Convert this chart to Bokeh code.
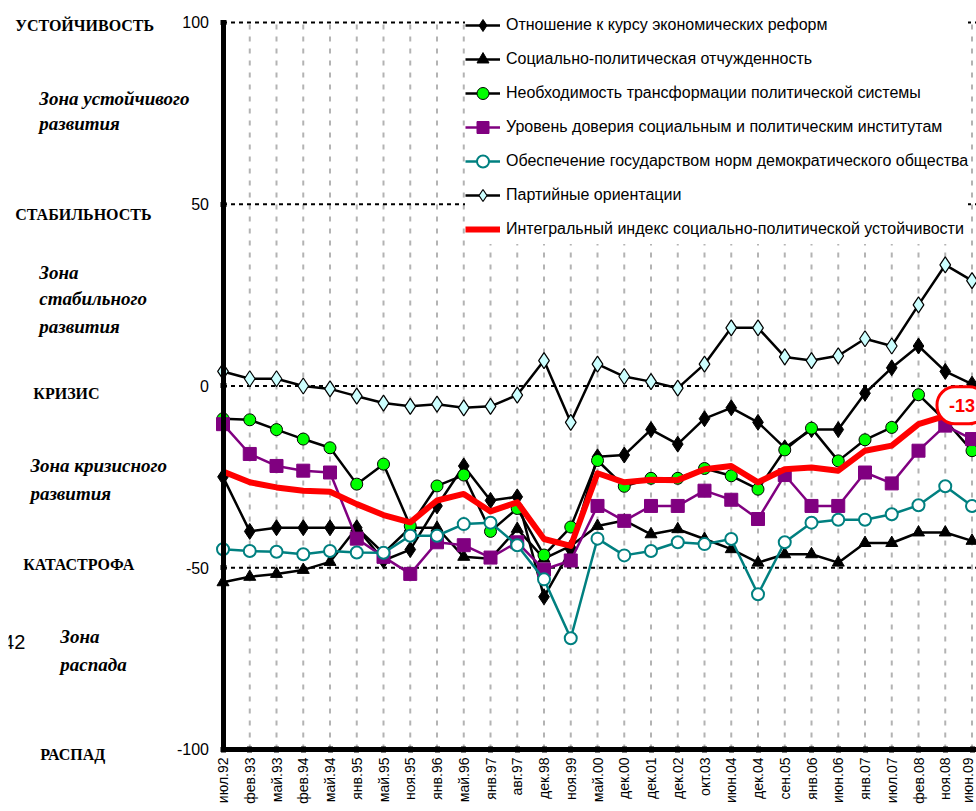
import math
from bokeh.plotting import figure
from bokeh.models import (Range1d, FixedTicker, LinearAxis, Legend, LegendItem, Label)
from bokeh.embed import file_html
from bokeh.resources import INLINE

# ---------------- data ----------------
categories = ["июл.92", "фев.93", "май.93", "фев.94", "май.94", "янв.95", "май.95", "ноя.95",
              "янв.96", "май.96", "янв.97", "авг.97", "дек.98", "ноя.99", "май.00", "дек.00",
              "дек.01", "дек.02", "окт.03", "июн.04", "дек.04", "сен.05", "янв.06", "июн.06",
              "янв.07", "июл.07", "фев.08", "ноя.08", "июн.09"]

reform = [-25, -40, -39, -39, -39, -39, -48, -45, -33, -22, -31.5, -30.5, -58, -45, -19.5,
          -19, -12, -16, -9, -6, -10, -17, -12, -12, -2, 5, 11, 4, 0.5]
alienation = [-54, -52.5, -51.7, -50.6, -48.4, -39, -46, -39, -39, -47, -47.5, -39.3, -47.5, -44, -38.5,
              -37, -40.8, -39.4, -42.1, -44.9, -48.6, -46.3, -46.3, -48.6, -43.2, -43.2, -40.3, -40.3, -42.6]
transformation = [-9, -9.3, -12, -14.6, -17, -27, -21.5, -38.5, -27.5, -24.5, -40, -33.7, -46.5, -38.8, -20.5,
                  -27.6, -25.4, -25.4, -22.7, -24.7, -28.4, -17.6, -11.6, -20.6, -14.8, -11.4, -2.4, -9.5, -17.8]
trust = [-10.5, -18.7, -22, -23.3, -23.8, -42, -47, -51.7, -43, -43.8, -47.2, -43, -50.5, -48, -33,
         -37.1, -33, -33, -28.8, -31.3, -36.6, -24.5, -33, -33, -23.8, -26.8, -17.8, -10.9, -14.6]
democracy = [-44.9, -45.4, -45.6, -46.3, -45.4, -45.8, -45.9, -41.2, -41.2, -38, -37.6, -43.8, -53.2, -69.4, -42,
             -46.6, -45.4, -43, -43.5, -42.1, -57.3, -43, -37.6, -36.8, -36.8, -35.3, -32.8, -27.6, -33]
party = [4, 2, 2, 0, -0.8, -2.8, -4.7, -5.6, -5, -6, -5.6, -2.5, 7, -10, 6,
         2.6, 1.2, -0.6, 6, 16, 16, 8, 7, 8.3, 13, 11, 22.3, 33.3, 29]
integral = [-23.5, -26.5, -27.9, -28.8, -29.1, -32.5, -35.5, -37.5, -31.5, -29.7, -34.5, -32, -42.1, -44, -24,
            -26.5, -25.8, -25.9, -22.9, -22, -26.5, -22.9, -22.4, -23.3, -17.8, -16.4, -10.5, -8.2, -10]
integral_label = "-13"

series_names = ["Отношение к курсу экономических реформ",
                "Социально-политическая отчужденность",
                "Необходимость трансформации политической системы",
                "Уровень доверия социальным и политическим институтам",
                "Обеспечение государством норм демократического общества",
                "Партийные ориентации",
                "Интегральный индекс социально-политической устойчивости"]

y_ticks = [-100, -50, 0, 50, 100]
zone_levels = [100, 50, 0, -50]

zone_texts = ["УСТОЙЧИВОСТЬ", "Зона устойчивого", "развития", "СТАБИЛЬНОСТЬ",
              "Зона", "стабильного", "развития", "КРИЗИС", "Зона кризисного", "развития",
              "КАТАСТРОФА", "Зона", "распада", "РАСПАД"]
stray_text = "42"

# ---------------- layout ----------------
zone_pos = [(-7.77, 99.3, "bold"), (-6.87, 79.0, "bold italic"), (-6.87, 72.1, "bold italic"),
            (-7.77, 47.3, "bold"), (-6.87, 31.1, "bold italic"), (-6.87, 24.2, "bold italic"),
            (-6.87, 16.5, "bold italic"), (-7.09, -2.2, "bold"), (-7.2, -22.0, "bold italic"),
            (-7.2, -29.7, "bold italic"), (-7.47, -49.2, "bold"), (-6.08, -68.8, "bold italic"),
            (-6.08, -76.5, "bold italic"), (-6.83, -101.5, "bold")]

x_start, x_end = -8.019, 28.168
y_start, y_end = -117.06, 106.05
xs = list(range(len(categories)))

p = figure(width=976, height=811, x_range=Range1d(x_start, x_end), y_range=Range1d(y_start, y_end),
           output_backend="svg", toolbar_location=None, x_axis_type=None, y_axis_type=None,
           min_border_left=8, min_border_right=0, min_border_top=0, min_border_bottom=0)
p.outline_line_color = None
p.background_fill_color = "white"
p.border_fill_color = "white"

# vertical gray dotted grid lines
p.segment(x0=xs[1:], y0=[y_ticks[0]] * (len(xs) - 1), x1=xs[1:], y1=[y_ticks[-1]] * (len(xs) - 1),
          line_color="#b3b3b3", line_width=2, line_dash="5 7")
# horizontal dashed level lines
p.ray(x=[0] * len(zone_levels), y=zone_levels, length=0, angle=0,
      line_color="black", line_width=2, line_dash="4 4")

yaxis = LinearAxis(ticker=FixedTicker(ticks=y_ticks), fixed_location=0, bounds=(-100, 100),
                   major_label_overrides={t: str(t) for t in y_ticks},
                   axis_line_width=5, axis_line_color="black",
                   major_tick_line_width=5, major_tick_in=3, major_tick_out=3,
                   minor_tick_line_color=None, major_label_standoff=11,
                   major_label_text_font="Liberation Sans", major_label_text_font_size="16px",
                   major_label_text_color="black")
p.add_layout(yaxis, "left")

xaxis = LinearAxis(ticker=FixedTicker(ticks=xs), fixed_location=-100, bounds=(0, x_end),
                   major_label_overrides={i: c for i, c in enumerate(categories)},
                   axis_line_width=5, axis_line_color="black",
                   major_tick_line_width=5, major_tick_in=3, major_tick_out=3,
                   minor_tick_line_color=None, major_label_standoff=5,
                   major_label_orientation=math.pi / 2,
                   major_label_text_font="Liberation Sans", major_label_text_font_size="14px",
                   major_label_text_color="black")
p.add_layout(xaxis, "below")

items = []
l = p.line(xs, reform, line_color="black", line_width=2.5)
m = p.scatter(xs, reform, marker="diamond", size=16, fill_color="black", line_color="black")
items.append(LegendItem(label=series_names[0], renderers=[l, m]))

l = p.line(xs, alienation, line_color="black", line_width=2.5)
m = p.scatter(xs, alienation, marker="triangle", size=12, fill_color="black", line_color="black")
items.append(LegendItem(label=series_names[1], renderers=[l, m]))

l = p.line(xs, transformation, line_color="black", line_width=2.5)
m = p.scatter(xs, transformation, marker="circle", size=12, fill_color="#00ff00", line_color="black", line_width=1)
items.append(LegendItem(label=series_names[2], renderers=[l, m]))

l = p.line(xs, trust, line_color="#800080", line_width=2.5)
m = p.scatter(xs, trust, marker="square", size=13, fill_color="#800080", line_color="#800080")
items.append(LegendItem(label=series_names[3], renderers=[l, m]))

l = p.line(xs, democracy, line_color="#008080", line_width=2.5)
m = p.scatter(xs, democracy, marker="circle", size=12, fill_color="white", line_color="#008080", line_width=2)
items.append(LegendItem(label=series_names[4], renderers=[l, m]))

l = p.line(xs, party, line_color="black", line_width=2.5)
m = p.scatter(xs, party, marker="diamond", size=16, fill_color="#ccffff", line_color="black", line_width=1.2)
items.append(LegendItem(label=series_names[5], renderers=[l, m]))

l = p.line(xs, integral, line_color="#ff0000", line_width=6, line_join="round")
items.append(LegendItem(label=series_names[6], renderers=[l]))

legend = Legend(items=items, location=(457, 567), orientation="vertical",
                background_fill_color="white", background_fill_alpha=1.0, border_line_color=None,
                glyph_width=35, glyph_height=30, label_height=30, spacing=4, padding=3,
                label_standoff=6, margin=0,
                label_text_font="Liberation Sans", label_text_font_size="16px",
                label_text_color="black")
p.add_layout(legend)

p.add_layout(Label(x=xs[-1], y=integral[-1], text=integral_label, x_offset=-10, y_offset=17,
                   text_align="center", text_baseline="middle", text_color="#ff0000",
                   text_font="Liberation Sans", text_font_style="bold", text_font_size="18px",
                   background_fill_color="white", border_line_color="#ff0000", border_line_width=3,
                   border_radius=18, padding=12))

for t, (zx, zy, st) in zip(zone_texts, zone_pos):
    p.add_layout(Label(x=zx, y=zy, text=t, text_align="left", text_baseline="middle",
                       text_font="Liberation Serif", text_font_style=st,
                       text_font_size="16px" if st == "bold" else "19px", text_color="black"))

p.add_layout(Label(x=-7.39, y=-70.4, text=stray_text, text_align="right", text_baseline="middle",
                   text_font="Liberation Sans", text_font_size="20px", text_color="black"))

open("out.html", "w").write(file_html(p, INLINE))
